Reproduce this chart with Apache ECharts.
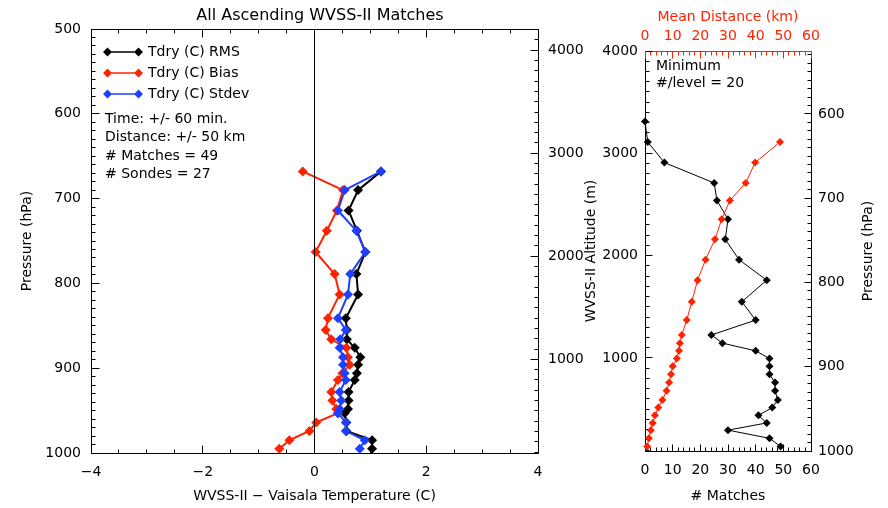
<!DOCTYPE html>
<html>
<head>
<meta charset="utf-8">
<script src="https://cdn.jsdelivr.net/npm/echarts@6/dist/echarts.min.js"></script>
<style>
html, body { margin: 0; padding: 0; background: #ffffff; }
#main { width: 888px; height: 508px; }
</style>
</head>
<body>
<div id="main"></div>
<script>
// left panel: WVSS-II minus Vaisala temperature stats on pressure levels (hPa)
var tdryLevels = [668, 690, 714, 738, 763, 789, 813, 841, 855, 866, 876, 887, 896, 906, 914, 928, 938, 948, 953, 964, 974, 985, 995];
var rmsValues = [1.19, 0.78, 0.61, 0.76, 0.91, 0.75, 0.78, 0.56, 0.58, 0.58, 0.72, 0.82, 0.78, 0.76, 0.72, 0.61, 0.61, 0.60, 0.54, 0.57, 0.57, 1.03, 1.03];
var biasValues = [-0.21, 0.51, 0.40, 0.22, 0.02, 0.36, 0.45, 0.24, 0.20, 0.30, 0.57, 0.60, 0.63, 0.50, 0.42, 0.30, 0.32, 0.39, 0.42, 0.03, -0.09, -0.45, -0.63];
var stdevValues = [1.19, 0.54, 0.42, 0.75, 0.91, 0.64, 0.60, 0.42, 0.56, 0.46, 0.45, 0.51, 0.51, 0.54, 0.56, 0.45, 0.48, 0.45, 0.42, 0.56, 0.56, 0.90, 0.81];

// right panel: matches and mean distance per altitude bin (m)
var matchAltitudes = [3310, 3110, 2910, 2710, 2540, 2355, 2160, 1960, 1760, 1550, 1370, 1225, 1145, 1070, 995, 920, 840, 760, 680, 590, 515, 440, 365, 295, 215, 135];
var matchCounts = [0, 1, 7, 25, 26, 30, 29, 34, 44, 35, 40, 24, 28, 40, 45, 45, 45, 47, 47, 48, 46, 41, 44, 30, 45, 49];
var distAltitudes = [3110, 2910, 2710, 2540, 2355, 2160, 1960, 1760, 1550, 1370, 1225, 1145, 1070, 995, 920, 840, 760, 680, 590, 515, 440, 365, 295, 215, 135];
var distValues = [48.8, 39.8, 36.4, 30.7, 27.7, 25.3, 21.9, 19.0, 16.9, 15.1, 13.3, 12.6, 12.3, 11.5, 10.0, 9.4, 8.7, 7.8, 6.3, 4.8, 3.6, 2.8, 2.1, 1.4, 0.8];

// axis labels
var altLabels = [1000, 2000, 3000, 4000];
var presLabels = [600, 700, 800, 900, 1000];
var notes = ['Time: +/- 60 min.', 'Distance: +/- 50 km', '# Matches = 49', '# Sondes = 27'];

(function() {
	var FONT = 'DejaVu Sans';
	var RED = '#ff2200';
	var BLUE = '#1f3fff';

	function pairs(xs, ys) {
		var out = [];
		for (var i = 0; i < xs.length; i++) {
			out.push([xs[i], ys[i]]);
		}
		return out;
	}
	function steps(a, b, step) {
		var out = [];
		for (var v = a; v <= b + 1e-9; v += step) {
			out.push(Math.round(v * 100) / 100);
		}
		return out;
	}
	function fmt(v) {
		return String(v).replace('-', '\u2212');
	}
	function labels(margin, values) {
		var l = { margin: margin, color: '#000', fontFamily: FONT, fontSize: 14, formatter: fmt };
		if (values) {
			l.customValues = values;
		}
		return l;
	}
	function nameStyle(color) {
		return { color: color || '#000', fontFamily: FONT, fontSize: 14 };
	}
	var noLine = { show: false, onZero: false };
	var noTick = { show: false };
	var noMinor = { show: false };

	// frame + ticks are drawn by custom series, positions come from the axis scales (api.coord)
	function crisp(v) {
		return Math.round(v - 0.5) + 0.5;
	}
	function seg(x1, y1, x2, y2, color) {
		return {
			type: 'line', silent: true,
			shape: { x1: x1, y1: y1, x2: x2, y2: y2 },
			style: { stroke: color || '#000', lineWidth: 1 }
		};
	}
	function isMajor(v, every) {
		return Math.abs(v / every - Math.round(v / every)) < 1e-6;
	}

	var tempTicks = steps(-4, 4, 0.5);
	var presTicksL = steps(500, 1000, 10);
	var altTicksL = steps(100, 4200, 100);
	var countTicks = steps(0, 60, 2);
	var altTicksR = steps(100, 4000, 100);
	var presTicksR = steps(530, 1000, 10);

	// left panel: box, pressure ticks (left), temperature ticks (bottom and top)
	function drawLeftFrame(params, api) {
		var tl = api.coord([-4, 500]);
		var br = api.coord([4, 1000]);
		var x0 = crisp(tl[0]), x1 = crisp(br[0]), y0 = crisp(tl[1]), y1 = crisp(br[1]);
		var kids = [seg(x0, y0, x1, y0), seg(x0, y1, x1, y1), seg(x0, y0, x0, y1), seg(x1, y0, x1, y1)];
		presTicksL.forEach(function(p) {
			var y = crisp(api.coord([-4, p])[1]);
			var len = isMajor(p, 100) ? 8 : 4;
			kids.push(seg(x0, y, x0 + len, y));
		});
		tempTicks.forEach(function(t) {
			var x = crisp(api.coord([t, 1000])[0]);
			var len = isMajor(t, 2) ? 8 : 4;
			kids.push(seg(x, y1, x, y1 - len));
			kids.push(seg(x, y0, x, y0 + len));
		});
		return { type: 'group', children: kids };
	}
	// left panel: altitude ticks on the right side
	function drawLeftAlt(params, api) {
		var kids = [];
		altTicksL.forEach(function(a) {
			var c = api.coord([4, a]);
			var x = crisp(c[0]), y = crisp(c[1]);
			var len = isMajor(a, 1000) ? 8 : 4;
			kids.push(seg(x - len, y, x, y));
		});
		return { type: 'group', children: kids };
	}
	// right panel: box, altitude ticks (left), count ticks (bottom), distance ticks (top, red)
	function drawRightFrame(params, api) {
		var tl = api.coord([0, 4000]);
		var br = api.coord([60, 91]);
		var x0 = crisp(tl[0]), x1 = crisp(br[0]), y0 = crisp(tl[1]), y1 = crisp(br[1]);
		var kids = [seg(x0, y1, x1, y1), seg(x0, y0, x0, y1), seg(x1, y0, x1, y1), seg(x0, y0, x1, y0, RED)];
		altTicksR.forEach(function(a) {
			var y = crisp(api.coord([0, a])[1]);
			var len = isMajor(a, 1000) ? 7 : 4;
			kids.push(seg(x0, y, x0 + len, y));
		});
		countTicks.forEach(function(t) {
			var x = crisp(api.coord([t, 91])[0]);
			var len = isMajor(t, 10) ? 7 : 4;
			kids.push(seg(x, y1, x, y1 - len));
			kids.push(seg(x, y0, x, y0 + len, RED));
		});
		return { type: 'group', children: kids };
	}
	// right panel: pressure ticks on the right side
	function drawRightPres(params, api) {
		var kids = [];
		presTicksR.forEach(function(p) {
			var c = api.coord([60, p]);
			var x = crisp(c[0]), y = crisp(c[1]);
			var len = isMajor(p, 100) ? 7 : 4;
			kids.push(seg(x - len, y, x, y));
		});
		return { type: 'group', children: kids };
	}

	var legendIcon = 'path://M0,4.5L4.5,0L9,4.5L4.5,9ZM4.5,3.7L35.5,3.7L35.5,5.3L4.5,5.3ZM31,4.5L35.5,0L40,4.5L35.5,9Z';

	var chart = echarts.init(document.getElementById('main'));

	var option = {
		backgroundColor: '#ffffff',
		animation: false,
		title: {
			text: 'All Ascending WVSS-II Matches',
			left: 315,
			textAlign: 'center',
			top: 3,
			textStyle: { color: '#000', fontFamily: FONT, fontSize: 16, fontWeight: 'normal' }
		},
		legend: {
			data: ['Tdry (C) RMS', 'Tdry (C) Bias', 'Tdry (C) Stdev'],
			orient: 'vertical',
			left: 98,
			top: 40,
			itemWidth: 40,
			itemHeight: 9,
			itemGap: 7,
			icon: legendIcon,
			textStyle: { color: '#000', fontFamily: FONT, fontSize: 14 },
			selectedMode: false
		},
		grid: [
			{ left: 91, top: 29, width: 447, height: 429 },
			{ left: 645, top: 51, width: 166, height: 407 }
		],
		xAxis: [
			{
				gridIndex: 0, type: 'value', min: -4, max: 4, interval: 2, position: 'bottom',
				name: 'WVSS-II \u2212 Vaisala Temperature (C)', nameLocation: 'middle', nameGap: 36, nameTextStyle: nameStyle(),
				axisLine: noLine, axisTick: noTick, minorTick: noMinor,
				axisLabel: labels(12),
				splitLine: { show: false }
			},
			{
				gridIndex: 1, type: 'value', min: 0, max: 60, interval: 10, position: 'bottom',
				name: '# Matches', nameLocation: 'middle', nameGap: 38, nameTextStyle: nameStyle(),
				axisLine: noLine, axisTick: noTick, minorTick: noMinor,
				axisLabel: labels(12),
				splitLine: { show: false }
			},
			{
				gridIndex: 1, type: 'value', min: 0, max: 60, interval: 10, position: 'top',
				name: 'Mean Distance (km)', nameLocation: 'middle', nameGap: 26, nameTextStyle: nameStyle(RED),
				axisLine: noLine, axisTick: noTick, minorTick: noMinor,
				axisLabel: { margin: 8, color: RED, fontFamily: FONT, fontSize: 14, formatter: fmt },
				splitLine: { show: false }
			}
		],
		yAxis: [
			// 0: left panel pressure
			{
				gridIndex: 0, type: 'value', min: 500, max: 1000, interval: 100, inverse: true, position: 'left',
				name: 'Pressure (hPa)', nameLocation: 'middle', nameGap: 52, nameRotate: 90, nameTextStyle: nameStyle(),
				axisLine: noLine, axisTick: noTick, minorTick: noMinor,
				axisLabel: labels(10),
				splitLine: { show: false }
			},
			// 1: left panel altitude
			{
				gridIndex: 0, type: 'value', min: 91, max: 4206, position: 'right',
				axisLine: noLine, axisTick: noTick, minorTick: noMinor,
				axisLabel: labels(10, altLabels),
				splitLine: { show: false }
			},
			// 2: right panel altitude
			{
				gridIndex: 1, type: 'value', min: 91, max: 4000, position: 'left',
				name: 'WVSS-II Altitude (m)', nameLocation: 'middle', nameGap: 45, nameRotate: 90, nameTextStyle: nameStyle(),
				axisLine: noLine, axisTick: noTick, minorTick: noMinor,
				axisLabel: labels(7, altLabels),
				splitLine: { show: false }
			},
			// 3: right panel pressure
			{
				gridIndex: 1, type: 'value', min: 525.4, max: 1000, inverse: true, position: 'right',
				name: 'Pressure (hPa)', nameLocation: 'middle', nameGap: 50, nameRotate: 90, nameTextStyle: nameStyle(),
				axisLine: noLine, axisTick: noTick, minorTick: noMinor,
				axisLabel: labels(7, presLabels),
				splitLine: { show: false }
			}
		],
		graphic: [
			{
				type: 'group', left: 105, top: 112,
				children: notes.map(function(t, i) {
					return { type: 'text', x: 0, y: i * 18.6, style: { text: t, fill: '#000', font: '14px ' + FONT } };
				})
			},
			{
				type: 'group', left: 656, top: 59,
				children: [
					{ type: 'text', x: 0, y: 0, style: { text: 'Minimum', fill: '#000', font: '14px ' + FONT } },
					{ type: 'text', x: 0, y: 17, style: { text: '#/level = 20', fill: '#000', font: '14px ' + FONT } }
				]
			}
		],
		series: [
			{
				name: 'frameLeft', type: 'custom', xAxisIndex: 0, yAxisIndex: 0, silent: true, z: 1,
				renderItem: drawLeftFrame, data: [[0, 750]]
			},
			{
				name: 'altTicksLeft', type: 'custom', xAxisIndex: 0, yAxisIndex: 1, silent: true, z: 1,
				renderItem: drawLeftAlt, data: [[0, 2000]]
			},
			{
				name: 'frameRight', type: 'custom', xAxisIndex: 1, yAxisIndex: 2, silent: true, z: 1,
				renderItem: drawRightFrame, data: [[30, 2000]]
			},
			{
				name: 'presTicksRight', type: 'custom', xAxisIndex: 1, yAxisIndex: 3, silent: true, z: 1,
				renderItem: drawRightPres, data: [[30, 750]]
			},
			{
				name: 'Tdry (C) RMS', type: 'line', xAxisIndex: 0, yAxisIndex: 0,
				data: pairs(rmsValues, tdryLevels),
				symbol: 'diamond', symbolSize: 10,
				lineStyle: { color: '#000', width: 2 }, itemStyle: { color: '#000' },
				markLine: {
					silent: true, symbol: 'none', label: { show: false },
					lineStyle: { color: '#000', width: 1, type: 'solid' },
					data: [{ xAxis: 0 }]
				}
			},
			{
				name: 'Tdry (C) Bias', type: 'line', xAxisIndex: 0, yAxisIndex: 0,
				data: pairs(biasValues, tdryLevels),
				symbol: 'diamond', symbolSize: 10,
				lineStyle: { color: RED, width: 2 }, itemStyle: { color: RED }
			},
			{
				name: 'Tdry (C) Stdev', type: 'line', xAxisIndex: 0, yAxisIndex: 0,
				data: pairs(stdevValues, tdryLevels),
				symbol: 'diamond', symbolSize: 10,
				lineStyle: { color: BLUE, width: 2 }, itemStyle: { color: BLUE }
			},
			{
				name: '# Matches', type: 'line', xAxisIndex: 1, yAxisIndex: 2,
				data: pairs(matchCounts, matchAltitudes),
				symbol: 'diamond', symbolSize: 8,
				lineStyle: { color: '#000', width: 1 }, itemStyle: { color: '#000' }
			},
			{
				name: 'Mean Distance', type: 'line', xAxisIndex: 2, yAxisIndex: 2,
				data: pairs(distValues, distAltitudes),
				symbol: 'diamond', symbolSize: 8,
				lineStyle: { color: RED, width: 1 }, itemStyle: { color: RED }
			}
		]
	};
	chart.setOption(option);
})();
</script>
</body>
</html>
